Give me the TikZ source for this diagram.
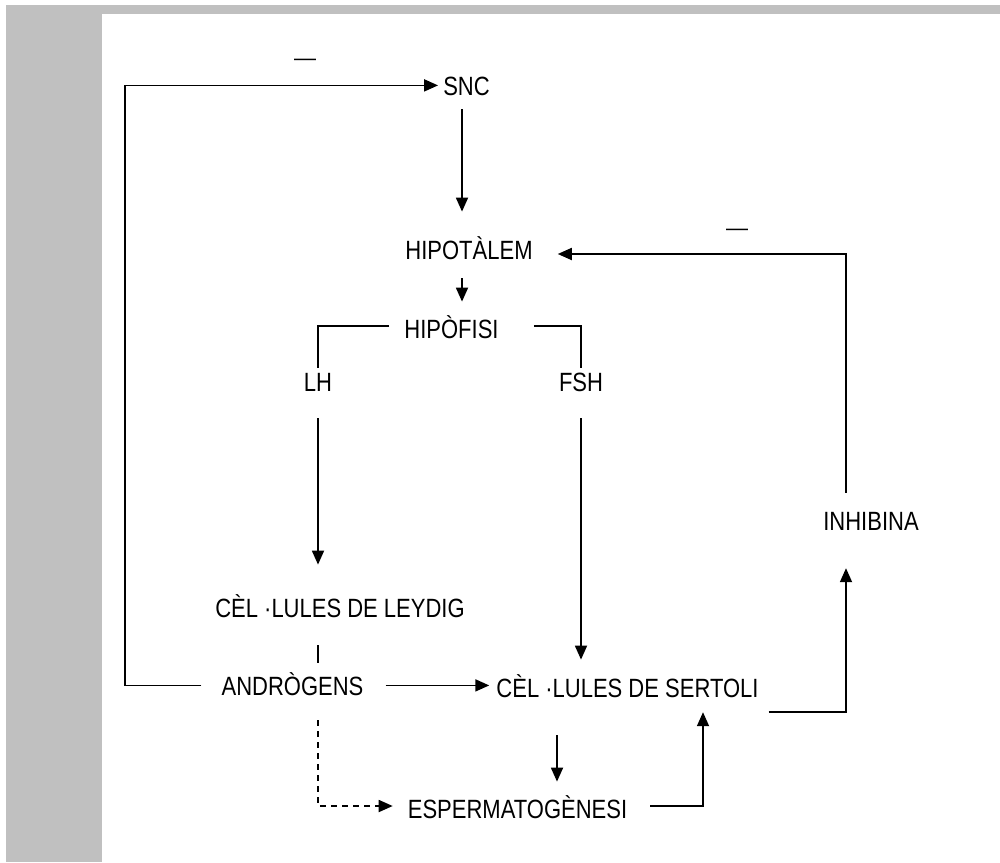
\documentclass[tikz,border=0pt]{standalone}
\usepackage{fontspec}
\setmainfont{Liberation Sans}
\usetikzlibrary{arrows.meta}
\definecolor{bandgray}{HTML}{C0C0C0}
\newcommand{\tallt}[1]{\scalebox{1}[1.2]{#1}}
\begin{document}
\begin{tikzpicture}[x=1pt,y=-1pt,
  lbl/.style={inner sep=0pt, text height=19.2pt, text depth=0pt, font=\fontsize{22}{26}\selectfont},
  sgn/.style={inner sep=0pt, font=\fontsize{22}{26}\selectfont},
  conn/.style={line width=1.8pt},
  arr/.style={conn, -{Triangle[length=14pt,width=12pt]}},
  darr/.style={arr, dash pattern=on 6pt off 5pt}]
\useasboundingbox (0,0) rectangle (1000,862);
\fill[bandgray] (6,5) rectangle (1000,14);
\fill[bandgray] (6,5) rectangle (102,862);
% nodes
\node[lbl] (snc) at (466.5,85.4) {\tallt{SNC}};
\node[lbl] (hipot) at (469,249.4) {\tallt{HIPOTÀLEM}};
\node[lbl] (hipof) at (451.5,328.4) {\tallt{HIPÒFISI}};
\node[lbl] (lh) at (318,381.4) {\tallt{LH}};
\node[lbl] (fsh) at (581,381.4) {\tallt{FSH}};
\node[lbl] (leydig) at (340,607.4) {\tallt{CÈL ·LULES DE LEYDIG}};
\node[lbl] (andro) at (292.5,685.4) {\tallt{ANDRÒGENS}};
\node[lbl] (sertoli) at (627.5,687.4) {\tallt{CÈL ·LULES DE SERTOLI}};
\node[lbl] (esperm) at (517.5,808.4) {\tallt{ESPERMATOGÈNESI}};
\node[lbl] (inhib) at (871,520.4) {\tallt{INHIBINA}};
\node[sgn] (m1) at (305,62) {—};
\node[sgn] (m2) at (737,232) {—};
% column coordinates
\coordinate (lx) at (125,0);
\coordinate (cx) at (462,0);
\coordinate (ce) at (557,0);
\coordinate (cr) at (703,0);
\coordinate (ci) at (846,0);
% connectors
\draw[arr, shorten <=20pt, shorten >=5pt] (andro.west) -- (andro.west -| lx) |- (snc.west);
\draw[arr, shorten <=14pt, shorten >=28pt] (snc.south -| cx) -- (hipot.north -| cx);
\draw[arr, shorten <=19pt, shorten >=17pt] (hipot.south -| cx) -- (hipof.north -| cx);
\draw[conn, shorten <=15pt, shorten >=4pt] ([yshift=2.4pt]hipof.west) -| (lh.north);
\draw[conn, shorten <=35pt, shorten >=4pt] ([yshift=2.4pt]hipof.east) -| (fsh.north);
\draw[arr, shorten <=27pt, shorten >=33pt] (lh.south) -- (lh.south |- leydig.north);
\draw[arr, shorten <=27pt, shorten >=18pt] (fsh.south) -- (fsh.south |- sertoli.north);
\draw[conn, shorten <=28pt, shorten >=13pt] (leydig.south -| lh) -- (andro.north -| lh);
\draw[arr, shorten <=22pt, shorten >=7pt] (andro.east) -- (andro.east -| sertoli.west);
\draw[darr, shorten <=25pt, shorten >=15pt] (andro.south -| lh) |- ([yshift=2.4pt]esperm.west);
\draw[arr, shorten <=38pt, shorten >=17pt] (sertoli.south -| ce) -- (esperm.north -| ce);
\draw[arr, shorten <=23pt, shorten >=15pt] ([yshift=2.4pt]esperm.east) -| (sertoli.south -| cr);
\draw[arr, shorten <=10pt, shorten >=38pt] ([yshift=-24.6pt]sertoli.east) -| (inhib.south -| ci);
\draw[arr, shorten <=18pt, shorten >=25pt] (inhib.north -| ci) |- ([yshift=-4.6pt]hipot.east);
\end{tikzpicture}
\end{document}
